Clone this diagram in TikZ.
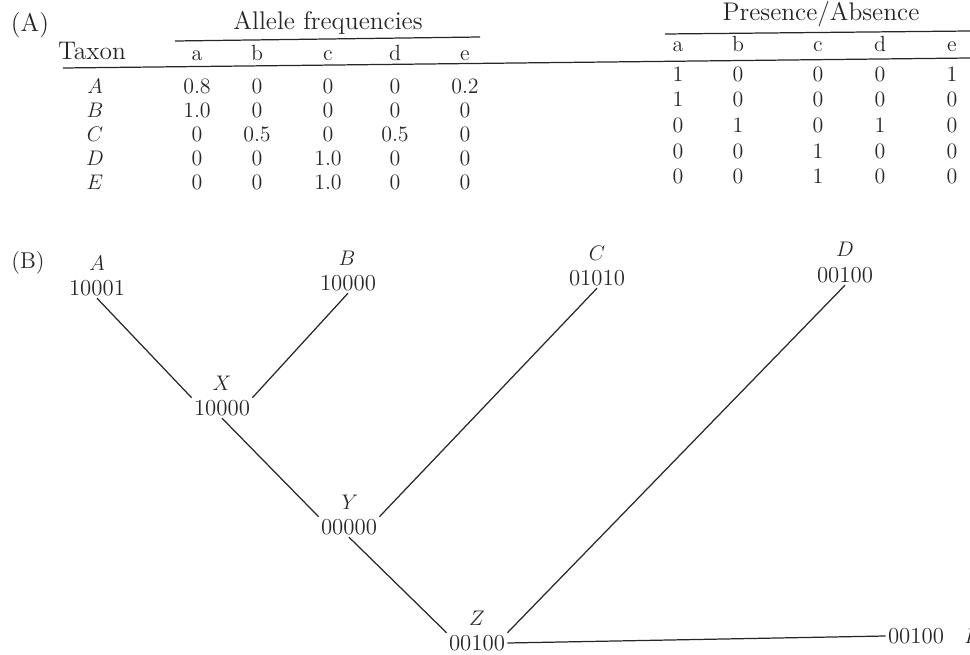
\documentclass[tikz,border=0pt]{standalone}
\begin{document}
\begin{tikzpicture}[x=0.02cm,y=-0.02cm,line width=0.7pt,
  every node/.style={inner sep=1pt,text=black!85},
  tab/.style={font=\fontsize{12.5}{14}\selectfont,anchor=base},
  head/.style={font=\fontsize{14.5}{16}\selectfont,anchor=base},
  tree/.style={font=\fontsize{13}{15}\selectfont}]

\useasboundingbox (0,0) rectangle (970,655);

% (A) allele frequencies and presence/absence
\node[head] (partA) at (30,32) {(A)};
\node[head] (freq) at (328,30) {Allele frequencies};
\node[head] (pres) at (821,21) {Presence/Absence};
\draw[black!85] (175,41)--(480,37);
\draw[black!85] (665,34)--(970,31);
\draw[black!85] (63,68)--(970,58);

\node[head] (taxon) at (92,60) {Taxon};
\foreach \col/\x in {a/197,b/257,c/328,d/395,e/465}
  \node[tab] (fh-\col) at (\x,61) {\col};
\foreach \col/\x in {a/678,b/738,c/818,d/880,e/952}
  \node[tab] (ph-\col) at (\x,52) {\col};

\foreach \row/\y/\va/\vb/\vc/\vd/\ve in
  {A/94/0.8/0/0/0/0.2, B/118/1.0/0/0/0/0, C/142/0/0.5/0/0.5/0,
   D/166/0/0/1.0/0/0, E/190/0/0/1.0/0/0}{
  \node[tab] (tax-\row) at (95,\y) {$\row$};
  \node[tab] (fa-\row) at (197,\y) {\va};
  \node[tab] (fb-\row) at (257,\y) {\vb};
  \node[tab] (fc-\row) at (328,\y) {\vc};
  \node[tab] (fd-\row) at (395,\y) {\vd};
  \node[tab] (fe-\row) at (465,\y) {\ve};
}

\foreach \row/\y/\va/\vb/\vc/\vd/\ve in
  {A/82/1/0/0/0/1, B/107/1/0/0/0/0, C/133/0/1/0/1/0,
   D/159/0/0/1/0/0, E/184/0/0/1/0/0}{
  \node[tab] (pa-\row) at (678,\y) {\va};
  \node[tab] (pb-\row) at (738,\y) {\vb};
  \node[tab] (pc-\row) at (818,\y) {\vc};
  \node[tab] (pd-\row) at (880,\y) {\vd};
  \node[tab] (pe-\row) at (952,\y) {\ve};
}

% (B) tree with coded states
\node[tree] (partB) at (28,263) {(B)};

\node[tree] (A) at (97,288) {10001};
\node[tree] (B) at (348,283) {10000};
\node[tree] (C) at (597,278) {01010};
\node[tree] (D) at (845,275) {00100};
\node[tree] (X) at (222,408) {10000};
\node[tree] (Y) at (349,527) {00000};
\node[tree] (Z) at (477,643) {00100};
\node[tree] (E) at (916,636) {00100};

\node[tree] (A-lab) at (97,263) {$A$};
\node[tree] (B-lab) at (347,258) {$B$};
\node[tree] (C-lab) at (597,253) {$C$};
\node[tree] (D-lab) at (845,249) {$D$};
\node[tree] (X-lab) at (222,383) {$X$};
\node[tree] (Y-lab) at (350,502) {$Y$};
\node[tree] (Z-lab) at (477,618) {$Z$};
\node[tree,anchor=west] (E-lab) at (962,636) {$E$};

\draw[black!85] (A.south)--(X.north west);
\draw[black!85] (B.south)--(X.north east);
\draw[black!85] (X.south)--(Y.north west);
\draw[black!85] (C.south)--(Y.north east);
\draw[black!85] (Y.south)--(Z.north west);
\draw[black!85] (D.south)--(Z.north east);
\draw[black!85] (Z.east)--(E.west);

\end{tikzpicture}
\end{document}
